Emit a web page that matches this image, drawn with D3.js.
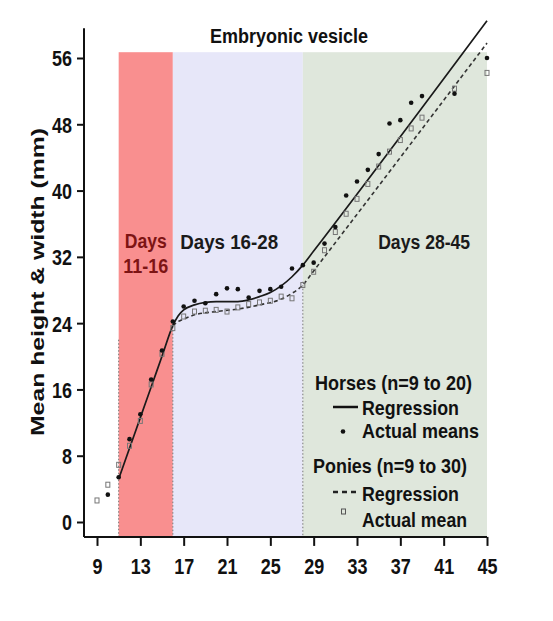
<!DOCTYPE html>
<html><head><meta charset="utf-8">
<script src="https://cdn.jsdelivr.net/npm/d3@7"></script>
<style>
body{margin:0;background:#fff;}
text{font-family:"Liberation Sans Narrow","Arial Narrow","Liberation Sans",Arial,sans-serif;font-weight:bold;fill:#111;}
</style></head>
<body><svg id="c" width="553" height="621"></svg>
<script>
// ---- data ----
const xTicks = [9,13,17,21,25,29,33,37,41,45];
const yTicks = [0,8,16,24,32,40,48,56];
const bandStart = [11,16,28];
const bandEnd = [16,28,45];
const bandLabels = [["Days","11-16"],["Days 16-28"],["Days 28-45"]];

const horseDays  = [10,11,12,13,14,15,16,17,18,19,20,21,22,23,24,25,26,27,28,29,30,31,32,33,34,35,36,37,38,39,42,45];
const horseMeans = [3.3,5.4,10.0,13.0,17.2,20.7,24.2,26.0,26.7,26.4,27.5,28.2,28.1,27.1,27.9,28.1,28.4,30.6,31.0,31.3,33.6,35.6,39.4,41.1,42.5,44.4,48.1,48.5,50.6,51.4,51.7,56.0];

const ponyDays  = [9,10,11,12,13,14,15,16,17,18,19,20,21,22,23,24,25,26,27,28,29,30,31,32,33,34,35,36,37,38,39,42,45];
const ponyMeans = [2.6,4.5,6.9,9.2,12.2,16.6,20.3,23.4,24.8,25.4,25.5,25.6,25.4,25.9,26.3,26.5,26.7,27.2,27.0,28.6,30.2,32.8,35.0,37.2,39.0,40.8,42.9,44.7,46.1,47.5,48.8,52.3,54.2];

const horseRegDays = [11,12,13,14,15,16,16.5,17,18,19,20,21,22,23,24,25,26,27,28,29,45];
const horseRegVals = [5.2,8.9,12.6,16.3,20.0,23.7,24.9,25.6,26.2,26.5,26.6,26.6,26.6,26.8,27.2,27.7,28.5,29.6,31.0,32.7,60.5];

const ponyRegDays = [16,16.5,17,18,20,22,24,26,27,28,29,45];
const ponyRegVals = [23.7,24.2,24.5,25.0,25.4,25.7,26.2,26.9,27.6,28.6,30.3,57.8];

const titleText = "Embryonic vesicle";
const yLabelText = "Mean height  & width (mm)";
const legendTexts = ["Horses (n=9 to 20)","Regression","Actual means","Ponies (n=9 to 30)","Regression","Actual mean"];

// ---- chart ----
const svg = d3.select("#c");
const x = d3.scaleLinear().domain([9,45]).range([97,487]);
const y = d3.scaleLinear().domain([0,56]).range([522,58]);
const yBottom = y(-1.8), yTop = y(59.6), bandTop = y(56.7);
const xLeft = x(7.8);

const bandColors = ["#f98f8f","#e7e7f9","#dfe7dc"];
svg.selectAll("rect.band").data(bandStart).join("rect")
  .attr("x",(d)=>x(d)).attr("y",bandTop)
  .attr("width",(d,i)=>x(bandEnd[i])-x(d)).attr("height",yBottom-bandTop)
  .attr("fill",(d,i)=>bandColors[i]);
const dotTop = [y(22), y(24), y(29)];
svg.selectAll("line.bd").data(bandStart).join("line")
  .attr("x1",d=>x(d)).attr("x2",d=>x(d)).attr("y1",(d,i)=>dotTop[i]).attr("y2",yBottom)
  .attr("stroke","#777").attr("stroke-width",1).attr("stroke-dasharray","1.5,2");

// band labels
const labelPos = [[x(13.5),248],[x(21.2),249],[x(39.2),249]];
const labelLens = [[42,45],[98],[92]];
bandLabels.forEach((lines,i)=>{
  lines.forEach((t,j)=>{
    svg.append("text").attr("x",labelPos[i][0]).attr("y",labelPos[i][1]+j*25)
      .attr("text-anchor","middle").style("font-size","20px")
      .style("fill", i===0 ? "#7d1414" : "#1a1a1a")
      .attr("textLength",labelLens[i][j]).attr("lengthAdjust","spacingAndGlyphs")
      .text(t);
  });
});

// regression lines
const line = d3.line().x(d=>x(d[0])).y(d=>y(d[1])).curve(d3.curveMonotoneX);
svg.append("path").datum(ponyRegDays.map((d,i)=>[d,ponyRegVals[i]]))
  .attr("d",line).attr("fill","none").attr("stroke","#333").attr("stroke-width",1.6)
  .attr("stroke-dasharray","4,3");
svg.append("path").datum(horseRegDays.map((d,i)=>[d,horseRegVals[i]]))
  .attr("d",line).attr("fill","none").attr("stroke","#1a1a1a").attr("stroke-width",1.7);

// points
svg.selectAll("rect.pony").data(ponyDays).join("rect")
  .attr("x",(d)=>x(d)-2).attr("y",(d,i)=>y(ponyMeans[i])-2.5)
  .attr("width",4).attr("height",5)
  .attr("fill","none").attr("stroke","#777").attr("stroke-width",1);
svg.selectAll("circle.horse").data(horseDays).join("circle")
  .attr("cx",d=>x(d)).attr("cy",(d,i)=>y(horseMeans[i])).attr("r",2.3)
  .attr("fill","#111");

// axes
svg.append("line").attr("x1",xLeft).attr("x2",xLeft).attr("y1",yTop).attr("y2",yBottom)
  .attr("stroke","#111").attr("stroke-width",2);
svg.append("line").attr("x1",xLeft).attr("x2",x(45)).attr("y1",yBottom).attr("y2",yBottom)
  .attr("stroke","#111").attr("stroke-width",2);

const gx = svg.append("g").attr("transform",`translate(0,${yBottom})`)
  .call(d3.axisBottom(x).tickValues(xTicks).tickSize(9).tickFormat(d3.format("d")));
gx.select(".domain").remove();
gx.selectAll(".tick line").attr("stroke","#111").attr("stroke-width",2);
gx.selectAll(".tick text").attr("y",37).attr("dy",null)
  .style("font-size","22px").style("font-family",null).attr("fill","#111")
  .attr("textLength",d=>String(d).length*10).attr("lengthAdjust","spacingAndGlyphs");

const gy = svg.append("g").attr("transform",`translate(${xLeft},0)`)
  .call(d3.axisLeft(y).tickValues(yTicks).tickSize(7).tickFormat(d3.format("d")));
gy.select(".domain").remove();
gy.selectAll(".tick line").attr("stroke","#111").attr("stroke-width",2);
gy.selectAll(".tick text").attr("x",-12).attr("dy","0.36em")
  .style("font-size","22px").attr("fill","#111")
  .attr("textLength",d=>String(d).length*10).attr("lengthAdjust","spacingAndGlyphs");

// title
svg.append("text").attr("x",289).attr("y",43).attr("text-anchor","middle")
  .style("font-size","20px").attr("textLength",158).attr("lengthAdjust","spacingAndGlyphs")
  .text(titleText);

// y label
svg.append("text").attr("transform","translate(44,282) rotate(-90)")
  .attr("text-anchor","middle").style("font-size","19px")
  .attr("textLength",308).attr("lengthAdjust","spacingAndGlyphs")
  .text(yLabelText);

// legend
const lg = [[315,390,157],[362,415,97],[362,438,117],[313,473,154],[362,501,97],[362,527,105]];
legendTexts.forEach((t,i)=>{
  svg.append("text").attr("x",lg[i][0]).attr("y",lg[i][1]).style("font-size","21px")
    .attr("textLength",lg[i][2]).attr("lengthAdjust","spacingAndGlyphs").text(t);
});
svg.append("line").attr("x1",333).attr("x2",358).attr("y1",407).attr("y2",407)
  .attr("stroke","#111").attr("stroke-width",2.5);
svg.append("circle").attr("cx",343).attr("cy",431.5).attr("r",2.3).attr("fill","#111");
svg.append("line").attr("x1",333).attr("x2",358).attr("y1",492).attr("y2",492)
  .attr("stroke","#222").attr("stroke-width",2.5).attr("stroke-dasharray","5,4");
svg.append("rect").attr("x",341.5).attr("y",509).attr("width",4).attr("height",5)
  .attr("fill","none").attr("stroke","#555").attr("stroke-width",1);
</script></body></html>
